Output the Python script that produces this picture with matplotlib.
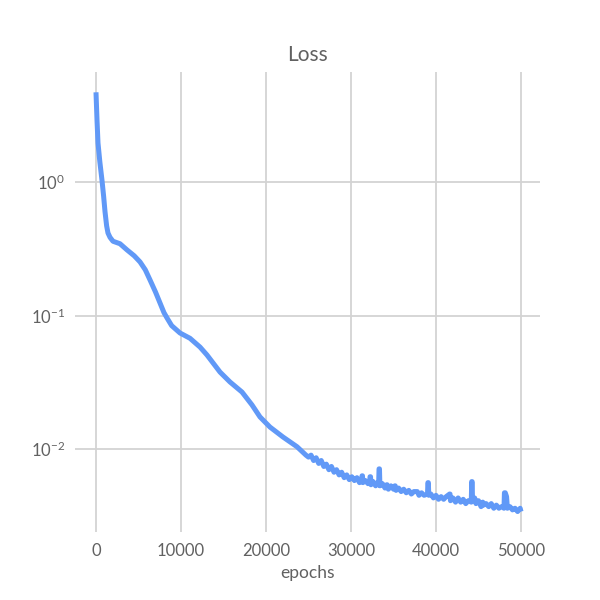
import matplotlib
matplotlib.use("Agg")
import matplotlib.pyplot as plt
from matplotlib.ticker import FixedLocator

# ---- data ----
head_epochs = [0, 120, 235, 450, 706, 900, 1060, 1250, 1410, 1650, 2000, 2820,
               3650, 4500, 5180, 5800, 6350, 7000, 7530, 8000, 8350, 8900, 9880,
               11060, 12240, 13060, 14590, 15760, 17180, 18350, 19290, 20470,
               22000, 23650, 24700]
head_loss = [4.7, 2.9, 1.96, 1.42, 1.03, 0.78, 0.60, 0.47, 0.415, 0.385, 0.36,
             0.345, 0.31, 0.28, 0.252, 0.22, 0.185, 0.15, 0.124, 0.105, 0.096,
             0.084, 0.074, 0.0675, 0.058, 0.0506, 0.0377, 0.0318, 0.0267,
             0.0214, 0.0174, 0.0146, 0.0123, 0.0104, 0.0090]

tail_epochs = [25000, 25300, 25600, 25900, 26200, 26500, 26800, 27100, 27400,
               27700, 28000, 28300, 28600, 28900, 29200, 29500, 29800, 30100,
               30400, 30700, 31000, 31250, 31300, 31350, 31400, 31700, 32000,
               32200, 32240, 32300, 32350, 32600, 32900, 33100, 33250, 33300,
               33350, 33400, 33700, 34000, 34200, 34250, 34400, 34700, 35000,
               35150, 35200, 35300, 35600, 35900, 36200, 36500, 36800, 37100,
               37400, 37750, 37800, 38000, 38300, 38600, 39000, 39050, 39100,
               39150, 39400, 39700, 40000, 40300, 40600, 40900, 41200, 41600,
               41650, 41700, 42000, 42300, 42600, 42900, 43200, 43500, 43800,
               44150, 44200, 44250, 44300, 44550, 44700, 45000, 45300, 45500,
               45600, 45900, 46200, 46500, 46800, 47100, 47400, 47700, 48000,
               48050, 48150, 48300, 48400, 48700, 49000, 49300, 49600, 49900,
               50000]
tail_loss = [0.0087, 0.0090, 0.0082, 0.0086, 0.0078, 0.0082, 0.0074, 0.0077,
             0.0070, 0.0074, 0.0067, 0.0070, 0.0064, 0.0067, 0.0061, 0.0064,
             0.0059, 0.0062, 0.0058, 0.0061, 0.0056, 0.0059, 0.0063, 0.0063,
             0.0056, 0.0058, 0.0055, 0.0057, 0.0062, 0.0062, 0.0054, 0.0057,
             0.0053, 0.0056, 0.0054, 0.0071, 0.0071, 0.0053, 0.0055, 0.0051,
             0.0054, 0.0054, 0.0050, 0.0053, 0.0050, 0.0053, 0.0053, 0.0049,
             0.0051, 0.0048, 0.0050, 0.0047, 0.0049, 0.0046, 0.0048, 0.0048,
             0.0048, 0.0045, 0.0047, 0.0045, 0.0046, 0.0056, 0.0056, 0.0045,
             0.0046, 0.0043, 0.0045, 0.0042, 0.0044, 0.0042, 0.0044, 0.0046,
             0.0046, 0.0041, 0.0043, 0.0040, 0.0043, 0.0040, 0.0042, 0.0039,
             0.0041, 0.0040, 0.0057, 0.0057, 0.0041, 0.0043, 0.0039, 0.0041,
             0.0037, 0.0040, 0.0038, 0.0039, 0.0037, 0.0039, 0.0036, 0.0038,
             0.0036, 0.0037, 0.0036, 0.0047, 0.0047, 0.0044, 0.0036, 0.0037,
             0.0035, 0.0036, 0.0034, 0.0036, 0.0034]

x_ticks = [0, 10000, 20000, 30000, 40000, 50000]
x_ticklabels = ["0", "10000", "20000", "30000", "40000", "50000"]
y_ticks = [1e0, 1e-1, 1e-2]
y_ticklabels = [r"$10^{0}$", r"$10^{-1}$", r"$10^{-2}$"]

epochs = head_epochs + tail_epochs
loss = head_loss + tail_loss

# ---- style ----
plt.rcParams['font.family'] = ['Lato', 'DejaVu Sans']
plt.rcParams['mathtext.fontset'] = 'custom'
plt.rcParams['mathtext.rm'] = 'Lato'
plt.rcParams['mathtext.it'] = 'Lato'
plt.rcParams['mathtext.bf'] = 'Lato'
text_color = '#616161'
grid_color = '#d3d3d3'
line_color = '#6199f7'

fig = plt.figure(figsize=(6, 6), dpi=100)
ax = fig.add_axes([0.125, 1 - 532 / 600, 0.775, (532 - 72) / 600])

ax.plot(epochs, loss, color=line_color, lw=3.6, solid_joinstyle='round',
        solid_capstyle='butt', zorder=3)
ax.set_yscale('log')
ax.set_xlim(-2470, 52235)
ax.set_ylim(0.00239, 6.67)

ax.xaxis.set_major_locator(FixedLocator(x_ticks))
ax.set_xticklabels(x_ticklabels)
ax.yaxis.set_major_locator(FixedLocator(y_ticks))
ax.set_yticklabels(y_ticklabels)
ax.yaxis.set_minor_locator(FixedLocator([]))

ax.grid(True, color=grid_color, lw=1.3, zorder=0)
for s in ax.spines.values():
    s.set_visible(False)
ax.tick_params(axis='both', length=0, labelsize=12, colors=text_color,
               pad=8)
ax.tick_params(axis='y', pad=7)

ax.set_xlabel("epochs", fontsize=12.5, color=text_color, labelpad=4)
ax.set_title("Loss", fontsize=15, color=text_color, pad=8)

fig.savefig("out.png", dpi=100)
